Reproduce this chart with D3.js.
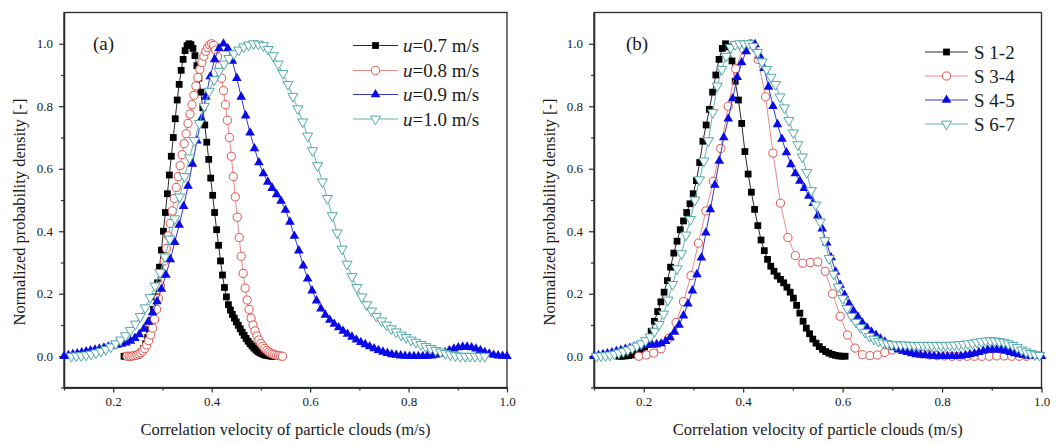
<!DOCTYPE html>
<html>
<head>
<meta charset="utf-8">
<script src="https://cdn.jsdelivr.net/npm/d3@7"></script>
<style>
  body { margin: 0; background: #fff; }
  svg { display: block; }
  text { font-family: "Liberation Serif", "Times New Roman", serif; fill: #1a1a1a; }
</style>
</head>
<body>
<svg id="chart" width="1061" height="444"></svg>
<script>
// ---- axis ticks ----
const xMajor = [0.2, 0.4, 0.6, 0.8, 1.0];
const xMinor = [0.1, 0.3, 0.5, 0.7, 0.9];
const yMajor = [0.0, 0.2, 0.4, 0.6, 0.8, 1.0];
const yMinor = [-0.1, 0.1, 0.3, 0.5, 0.7, 0.9];
const xTitle = "Correlation velocity of particle clouds (m/s)";
const yTitle = "Normalized probability density [-]";

// ---- panel (a): superficial velocity u ----
const legendA = ["=0.7 m/s", "=0.8 m/s", "=0.9 m/s", "=1.0 m/s"];

const u07Start = 0.222, u07Step = 0.004;
const u07 = [0.000,0.000,0.000,0.000,0.000,0.001,0.002,0.004,0.008,0.015,0.025,0.040,0.060,0.085,0.115,0.150,
  0.190,0.235,0.285,0.340,0.400,0.460,0.520,0.580,0.640,0.700,0.760,0.820,0.870,0.915,0.950,0.978,0.994,1.000,
  0.997,0.985,0.962,0.930,0.890,0.845,0.795,0.740,0.685,0.630,0.570,0.515,0.460,0.405,0.355,0.305,0.260,0.220,
  0.190,0.165,0.148,0.134,0.122,0.110,0.099,0.088,0.077,0.067,0.057,0.048,0.040,0.033,0.026,0.020,0.015,0.011,
  0.008,0.005,0.003,0.002,0.001,0.000,0.000,0.000];

const u08Start = 0.228, u08Step = 0.004;
const u08 = [0.000,0.000,0.000,0.001,0.002,0.004,0.007,0.011,0.017,0.025,0.036,0.050,0.068,0.090,0.118,0.150,
  0.185,0.225,0.265,0.305,0.345,0.385,0.425,0.465,0.505,0.540,0.575,0.610,0.645,0.680,0.712,0.745,0.775,0.805,
  0.835,0.865,0.892,0.918,0.940,0.960,0.976,0.988,0.996,1.000,0.995,0.980,0.958,0.928,0.890,0.850,0.805,0.755,
  0.700,0.640,0.575,0.510,0.445,0.380,0.320,0.265,0.218,0.180,0.150,0.122,0.100,0.081,0.065,0.052,0.041,0.032,
  0.025,0.019,0.014,0.010,0.007,0.005,0.003,0.002,0.001,0.000];

const u09Start = 0.100, u09Step = 0.009;
const u09 = [0.000,0.003,0.006,0.009,0.012,0.015,0.018,0.021,0.024,0.027,0.030,0.033,0.036,0.039,0.043,0.049,
  0.058,0.070,0.087,0.110,0.140,0.175,0.215,0.260,0.310,0.365,0.420,0.480,0.545,0.615,0.690,0.760,0.830,0.895,
  0.950,0.985,1.000,0.985,0.945,0.890,0.830,0.770,0.715,0.665,0.620,0.585,0.558,0.538,0.518,0.497,0.468,0.430,
  0.385,0.338,0.290,0.248,0.210,0.178,0.152,0.132,0.116,0.103,0.092,0.081,0.071,0.062,0.053,0.045,0.038,0.031,
  0.025,0.019,0.014,0.010,0.006,0.004,0.002,0.001,0.000,0.000,0.000,0.000,0.001,0.002,0.004,0.008,0.013,0.019,
  0.024,0.028,0.030,0.030,0.028,0.024,0.019,0.013,0.008,0.004,0.002,0.001,0.000];

const u10Start = 0.115, u10Step = 0.010;
const u10 = [0.000,0.001,0.002,0.004,0.007,0.011,0.016,0.022,0.030,0.040,0.052,0.066,0.083,0.103,0.127,0.155,
  0.188,0.225,0.268,0.318,0.375,0.440,0.510,0.575,0.635,0.690,0.745,0.800,0.848,0.885,0.912,0.935,0.953,0.968,
  0.980,0.990,0.996,1.000,0.999,0.994,0.982,0.962,0.935,0.905,0.870,0.832,0.792,0.750,0.705,0.658,0.610,0.558,
  0.505,0.450,0.395,0.343,0.295,0.255,0.220,0.190,0.165,0.145,0.128,0.113,0.100,0.088,0.078,0.068,0.060,0.052,
  0.045,0.038,0.031,0.025,0.019,0.014,0.009,0.005,0.002,0.000,0.000,0.000,0.000,0.000,0.000];

// ---- panel (b): sensor pairs ----
const legendB = ["S 1-2", "S 3-4", "S 4-5", "S 6-7"];

const s12Start = 0.150, s12Step = 0.0065;
const s12 = [0.000,0.000,0.001,0.002,0.004,0.007,0.011,0.019,0.030,0.048,0.080,0.112,0.143,0.174,0.205,0.242,
  0.285,0.330,0.368,0.405,0.433,0.460,0.488,0.520,0.562,0.620,0.688,0.740,0.790,0.845,0.900,0.950,0.985,1.000,
  0.990,0.945,0.880,0.820,0.745,0.655,0.583,0.525,0.470,0.418,0.372,0.338,0.310,0.288,0.272,0.257,0.246,0.235,
  0.221,0.205,0.186,0.163,0.138,0.112,0.090,0.072,0.055,0.042,0.031,0.022,0.015,0.010,0.006,0.003,0.001,0.000,
  0.000];

const s34Start = 0.190, s34Step = 0.015;
const s34 = [0.000,0.004,0.010,0.024,0.057,0.108,0.175,0.258,0.362,0.465,0.560,0.665,0.800,0.920,0.985,1.000,
  0.950,0.830,0.650,0.490,0.380,0.322,0.298,0.300,0.302,0.272,0.200,0.128,0.068,0.026,0.005,0.002,0.004,0.012,
  0.020,0.022,0.018,0.012,0.007,0.004,0.002,0.001,0.000,0.000,0.000,0.000,0.000,0.000,0.001,0.001,0.000,0.000,
  0.000];

const s45Start = 0.100, s45Step = 0.009;
const s45 = [0.000,0.003,0.006,0.009,0.012,0.016,0.019,0.023,0.026,0.030,0.033,0.035,0.036,0.036,0.038,0.041,
  0.048,0.060,0.078,0.100,0.130,0.168,0.210,0.262,0.315,0.395,0.470,0.548,0.625,0.700,0.760,0.825,0.893,0.940,
  0.975,0.997,0.998,0.962,0.922,0.862,0.800,0.742,0.695,0.652,0.614,0.585,0.561,0.538,0.513,0.490,0.450,0.408,
  0.363,0.316,0.270,0.228,0.196,0.168,0.145,0.126,0.106,0.091,0.078,0.068,0.056,0.046,0.036,0.028,0.022,0.017,
  0.013,0.009,0.006,0.004,0.003,0.002,0.001,0.000,0.000,0.000,0.000,0.000,0.001,0.003,0.006,0.009,0.013,0.017,
  0.020,0.021,0.021,0.020,0.017,0.013,0.009,0.006,0.003,0.001,0.000,0.000,0.000];

const s67Start = 0.105, s67Step = 0.009;
const s67 = [0.000,0.001,0.002,0.004,0.007,0.011,0.015,0.020,0.026,0.033,0.040,0.050,0.062,0.080,0.102,0.135,
  0.180,0.230,0.280,0.328,0.388,0.438,0.500,0.565,0.625,0.690,0.780,0.865,0.918,0.960,0.988,0.998,1.000,1.000,
  1.000,0.992,0.972,0.942,0.918,0.893,0.870,0.830,0.795,0.755,0.715,0.677,0.638,0.588,0.530,0.484,0.430,0.370,
  0.313,0.263,0.222,0.185,0.153,0.128,0.109,0.092,0.077,0.064,0.055,0.048,0.043,0.040,0.038,0.037,0.036,0.036,
  0.035,0.035,0.035,0.035,0.035,0.035,0.035,0.035,0.035,0.035,0.036,0.037,0.038,0.040,0.042,0.045,0.047,0.049,
  0.050,0.049,0.047,0.045,0.040,0.035,0.028,0.020,0.014,0.009,0.005,0.003];

// ---- styles per series slot ----
const styles = [
  { line: "#2a2a2a", shape: d3.symbolSquare,   size: 46, fill: "#000",    stroke: "none",    rot: 0 },
  { line: "#ec8a8a", shape: d3.symbolCircle,   size: 52, fill: "#fff",    stroke: "#e2534f", rot: 0 },
  { line: "#3636c8", shape: d3.symbolTriangle, size: 40, fill: "#0a0ae6", stroke: "none",    rot: 0 },
  { line: "#62b2b2", shape: d3.symbolTriangle, size: 44, fill: "#fff",    stroke: "#4fa8a8", rot: 180 }
];

function toPoints(start, step, ys) {
  return ys.map((v, i) => ({ x: start + i * step, y: v }));
}

const panels = [
  {
    left: 64, right: 507, tag: "(a)", tagX: 93,
    legend: legendA, italicU: true,
    legLine: [353, 398], legText: 403, legRows: [45.5, 70.5, 94.5, 119],
    titleY: 212, titleX: 19,
    series: [toPoints(u07Start, u07Step, u07), toPoints(u08Start, u08Step, u08),
             toPoints(u09Start, u09Step, u09), toPoints(u10Start, u10Step, u10)]
  },
  {
    left: 594, right: 1041.5, tag: "(b)", tagX: 626,
    legend: legendB, italicU: false,
    legLine: [925, 968], legText: 974, legRows: [52, 76, 100, 124],
    titleY: 212, titleX: 549,
    series: [toPoints(s12Start, s12Step, s12), toPoints(s34Start, s34Step, s34),
             toPoints(s45Start, s45Step, s45), toPoints(s67Start, s67Step, s67)]
  }
];

const svg = d3.select("#chart");
const plotTop = 12.5, plotBottom = 387.5;
const axisColor = "#2b2b2b";

panels.forEach(p => {
  const x = d3.scaleLinear().domain([0.1, 1.0]).range([p.left, p.right]);
  const y = d3.scaleLinear().domain([-0.1, 1.1]).range([plotBottom, plotTop]);
  const g = svg.append("g");

  // frame
  g.append("rect")
    .attr("x", p.left).attr("y", plotTop)
    .attr("width", p.right - p.left).attr("height", plotBottom - plotTop)
    .attr("fill", "none").attr("stroke", axisColor).attr("stroke-width", 1.3);

  // axes
  const fmt = d3.format(".1f");
  g.append("g").attr("transform", `translate(0,${plotBottom})`)
    .call(d3.axisBottom(x).tickValues(xMajor).tickFormat(fmt).tickSize(5).tickSizeOuter(0).tickPadding(4));
  g.append("g").attr("transform", `translate(0,${plotBottom})`)
    .call(d3.axisBottom(x).tickValues(xMinor).tickFormat("").tickSize(3).tickSizeOuter(0));
  g.append("g").attr("transform", `translate(${p.left},0)`)
    .call(d3.axisLeft(y).tickValues(yMajor).tickFormat(fmt).tickSize(5).tickSizeOuter(0).tickPadding(6));
  g.append("g").attr("transform", `translate(${p.left},0)`)
    .call(d3.axisLeft(y).tickValues(yMinor).tickFormat("").tickSize(3).tickSizeOuter(0));

  g.selectAll(".domain").attr("stroke", axisColor).attr("stroke-width", 1.3);
  g.selectAll(".tick line").attr("stroke", axisColor).attr("stroke-width", 1.2);
  g.selectAll(".tick text")
    .style("font-family", '"Liberation Serif", serif').style("font-size", "13px").attr("fill", "#222");

  // axis titles
  g.append("text")
    .attr("x", (p.left + p.right) / 2).attr("y", 435)
    .attr("text-anchor", "middle").style("font-size", "16.5px")
    .text(xTitle);
  g.append("text")
    .attr("transform", `translate(${p.titleX + 6},${p.titleY}) rotate(-90)`)
    .attr("text-anchor", "middle").style("font-size", "16.5px")
    .text(yTitle);

  // panel tag
  g.append("text").attr("x", p.tagX).attr("y", 50).style("font-size", "19px").text(p.tag);

  // series lines then markers
  const line = d3.line().x(d => x(d.x)).y(d => y(d.y));
  p.series.forEach((pts, k) => {
    const st = styles[k];
    g.append("path").datum(pts)
      .attr("d", line).attr("fill", "none")
      .attr("stroke", st.line).attr("stroke-width", 1);
    g.append("g").selectAll("path").data(pts).join("path")
      .attr("d", d3.symbol().type(st.shape).size(st.size))
      .attr("transform", d => `translate(${x(d.x)},${y(d.y)}) rotate(${st.rot})`)
      .attr("fill", st.fill)
      .attr("stroke", st.stroke).attr("stroke-width", 1);
  });

  // legend
  p.legend.forEach((lab, k) => {
    const st = styles[k];
    const ry = p.legRows[k];
    g.append("line")
      .attr("x1", p.legLine[0]).attr("x2", p.legLine[1]).attr("y1", ry).attr("y2", ry)
      .attr("stroke", st.line).attr("stroke-width", 1);
    g.append("path")
      .attr("d", d3.symbol().type(st.shape).size(st.size))
      .attr("transform", `translate(${(p.legLine[0] + p.legLine[1]) / 2},${ry}) rotate(${st.rot})`)
      .attr("fill", st.fill).attr("stroke", st.stroke).attr("stroke-width", 1);
    const t = g.append("text").attr("x", p.legText).attr("y", ry + 6.5).style("font-size", "19px");
    if (p.italicU) {
      t.append("tspan").style("font-style", "italic").text("u");
      t.append("tspan").text(lab);
    } else {
      t.text(lab);
    }
  });
});
</script>
</body>
</html>
